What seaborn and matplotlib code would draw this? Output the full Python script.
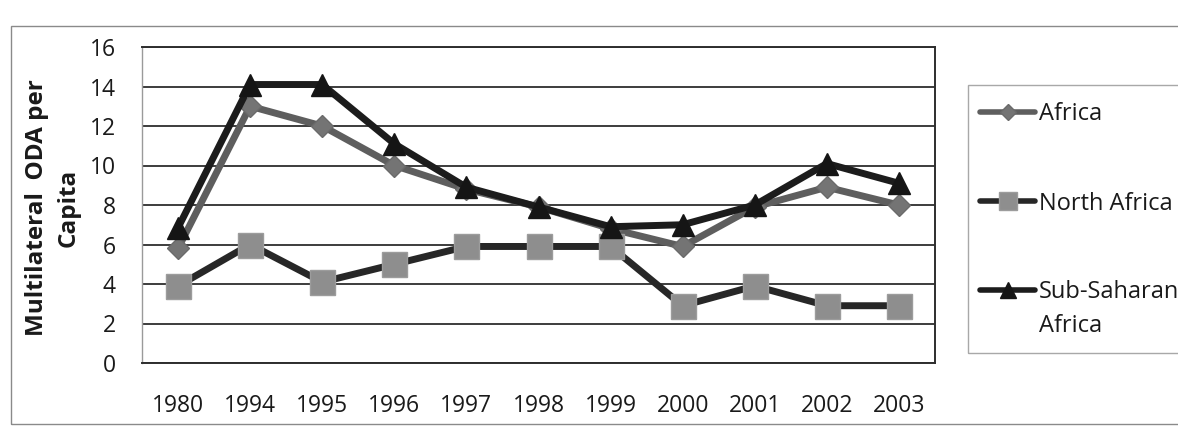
import numpy as np
import pandas as pd
import seaborn as sns
import matplotlib.pyplot as plt
from matplotlib.patches import Rectangle
from matplotlib.lines import Line2D

# Multilateral ODA per capita by region
years = ["1980", "1994", "1995", "1996", "1997", "1998",
         "1999", "2000", "2001", "2002", "2003"]
africa = [5.8, 13.0, 12.0, 10.0, 8.8, 7.9, 6.8, 5.9, 7.9, 8.9, 8.0]
north_africa = [3.9, 6.0, 4.1, 5.0, 5.9, 5.9, 5.9, 2.9, 3.9, 2.9, 2.9]
sub_saharan = [6.85, 14.1, 14.1, 11.1, 8.9, 7.9, 6.9, 7.0, 8.0, 10.1, 9.1]
y_ticks = [0, 2, 4, 6, 8, 10, 12, 14, 16]

series = {
    "Africa": africa,
    "North Africa": north_africa,
    "Sub-Saharan\nAfrica": sub_saharan,
}

df = pd.DataFrame({
    "pos": np.tile(np.arange(len(years)), len(series)),
    "value": np.concatenate([np.asarray(v, float) for v in series.values()]),
    "region": np.repeat(list(series.keys()), len(years)),
})

sns.set_style("white")
plt.rcParams["font.family"] = ["Open Sans", "DejaVu Sans"]

W, H = 1178, 430
fig = plt.figure(figsize=(W / 100, H / 100), dpi=100)
fig.patch.set_facecolor("white")


def fx(px):
    return px / W


def fy(py):
    return 1 - py / H


# outer chart-area frame
fig.patches.append(Rectangle((fx(11), fy(424)), 1.2, (424 - 26) / H,
                             transform=fig.transFigure, fill=False,
                             edgecolor="#8a8a8a", lw=1.0, zorder=0))

ax = fig.add_axes([fx(142), fy(363), (935 - 142) / W, (363 - 47) / H])

styles = {
    "Africa": dict(color="#5e5e5e", marker="D", markersize=11.5,
                   markerfacecolor="#747474", markeredgecolor="#6a6a6a"),
    "North Africa": dict(color="#272727", marker="s", markersize=18,
                         markerfacecolor="#8e8e8e", markeredgecolor="#9c9c9c"),
    "Sub-Saharan\nAfrica": dict(color="#1c1c1c", marker="^", markersize=16.5,
                                markerfacecolor="#151515", markeredgecolor="#151515"),
}

for i, (name, st) in enumerate(styles.items()):
    sub = df[df["region"] == name]
    sns.lineplot(data=sub, x="pos", y="value", ax=ax, label=name,
                 linewidth=5, markeredgewidth=1, zorder=3 + i, **st)

ax.set_xlim(-0.5, len(years) - 0.5)
ax.set_ylim(0, 16)
ax.set_xticks(np.arange(len(years)))
ax.set_xticklabels(years)
ax.set_yticks(y_ticks)
ax.set_yticklabels([str(t) for t in y_ticks])
ax.set_xlabel("")
ax.set_ylabel("")
ax.yaxis.grid(True, color="#3c3c3c", lw=1.4)
ax.xaxis.grid(False)
ax.set_axisbelow(True)
ax.tick_params(axis="both", length=0, labelsize=16.5, colors="#1a1a1a")
ax.tick_params(axis="y", pad=19)
ax.tick_params(axis="x", pad=22)
for side, sp in ax.spines.items():
    sp.set_visible(True)
    sp.set_color("#2e2e2e")
    sp.set_linewidth(1.4)
ax.spines["left"].set_color("#9a9a9a")
ax.spines["left"].set_linewidth(1.0)

fig.text(fx(53), fy(208), "Multilateral  ODA per\nCapita",
         rotation=90, ha="center", va="center", multialignment="center",
         fontsize=17.5, fontweight="bold", color="#1a1a1a", linespacing=1.45)

# legend box: handle on the first line of each label
handles, labels = ax.get_legend_handles_labels()
if ax.get_legend() is not None:
    ax.get_legend().remove()
fig.patches.append(Rectangle((fx(968), fy(353)), 1.0, (353 - 85) / H,
                             transform=fig.transFigure, fill=False,
                             edgecolor="#a8a8a8", lw=1.0, zorder=1))
legend_marker_scale = 0.7
line_step = 33
for h, lab, row_y in zip(handles, labels, [112, 201, 290]):
    fig.lines.append(Line2D([fx(980), fx(1035)], [fy(row_y), fy(row_y)],
                            transform=fig.transFigure,
                            color=h.get_color(), lw=4, zorder=2))
    fig.lines.append(Line2D([fx(1007.5)], [fy(row_y)],
                            transform=fig.transFigure, linestyle="none",
                            marker=h.get_marker(),
                            markersize=h.get_markersize() * legend_marker_scale,
                            markerfacecolor=h.get_markerfacecolor(),
                            markeredgecolor=h.get_markeredgecolor(),
                            zorder=3))
    for k, part in enumerate(lab.split("\n")):
        fig.text(fx(1039), fy(row_y + 8.5 + k * line_step), part,
                 ha="left", va="baseline", fontsize=17, color="#1a1a1a")

fig.savefig("out.png", dpi=100, facecolor="white")
